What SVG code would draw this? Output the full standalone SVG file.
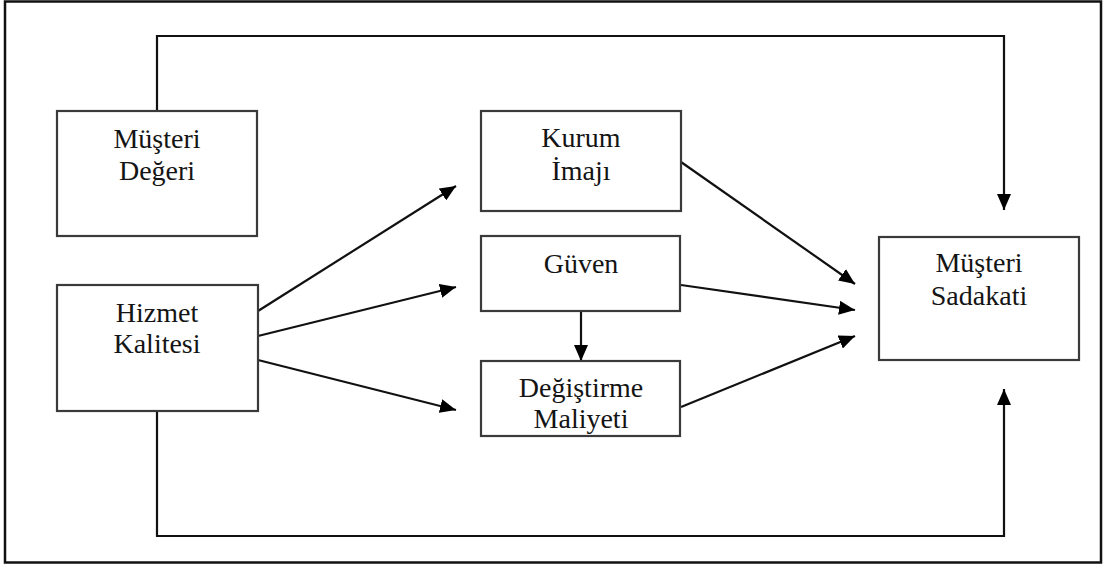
<svg xmlns="http://www.w3.org/2000/svg" width="1104" height="565" viewBox="0 0 1104 565">
<style>
.box{fill:#fff;stroke:#3a3a3a;stroke-width:2.2}
.con{fill:none;stroke:#111;stroke-width:2.2}
text{font-family:"Liberation Serif",serif;font-size:28px;fill:#141414;text-anchor:middle}
</style>
<defs>
<marker id="ah" viewBox="0 0 16 14" refX="16" refY="7" markerWidth="16" markerHeight="14" markerUnits="userSpaceOnUse" orient="auto">
<path d="M0,0 L16,7 L0,14 Z" fill="#000"/>
</marker>
</defs>
<rect x="0" y="0" width="1104" height="565" fill="#fff"/>
<rect x="5" y="1.5" width="1096" height="561" fill="none" stroke="#111" stroke-width="2.5"/>
<g id="connectors">
<path class="con" d="M157,111 V36 H1004 V210" marker-end="url(#ah)"/>
<path class="con" d="M157,411 V536 H1004 V389" marker-end="url(#ah)"/>
<line class="con" x1="258" y1="311" x2="456" y2="186" marker-end="url(#ah)"/>
<line class="con" x1="258" y1="336" x2="456" y2="287" marker-end="url(#ah)"/>
<line class="con" x1="258" y1="360" x2="456" y2="410" marker-end="url(#ah)"/>
<line class="con" x1="681" y1="162" x2="855" y2="284" marker-end="url(#ah)"/>
<line class="con" x1="681" y1="285" x2="855" y2="310" marker-end="url(#ah)"/>
<line class="con" x1="681" y1="407" x2="855" y2="336" marker-end="url(#ah)"/>
<line class="con" x1="581" y1="311" x2="581" y2="361" marker-end="url(#ah)"/>
</g>
<g id="musteri-degeri">
<rect class="box" x="57" y="111" width="200" height="125"/>
<text font-family="Liberation Serif" x="157" y="148">Müşteri</text>
<text font-family="Liberation Serif" x="157" y="180">Değeri</text>
</g>
<g id="hizmet-kalitesi">
<rect class="box" x="57" y="285" width="201" height="126"/>
<text font-family="Liberation Serif" x="157" y="322">Hizmet</text>
<text font-family="Liberation Serif" x="157" y="353">Kalitesi</text>
</g>
<g id="kurum-imaji">
<rect class="box" x="481" y="111" width="200" height="100"/>
<text font-family="Liberation Serif" x="581" y="147">Kurum</text>
<text font-family="Liberation Serif" x="581" y="180">İmajı</text>
</g>
<g id="guven">
<rect class="box" x="481" y="236" width="199" height="75"/>
<text font-family="Liberation Serif" x="581" y="273">Güven</text>
</g>
<g id="degistirme-maliyeti">
<rect class="box" x="481" y="361" width="199" height="75"/>
<text font-family="Liberation Serif" x="581" y="397">Değiştirme</text>
<text font-family="Liberation Serif" x="581" y="428">Maliyeti</text>
</g>
<g id="musteri-sadakati">
<rect class="box" x="879" y="237" width="200" height="123"/>
<text font-family="Liberation Serif" x="979" y="272">Müşteri</text>
<text font-family="Liberation Serif" x="979" y="305">Sadakati</text>
</g>
</svg>
